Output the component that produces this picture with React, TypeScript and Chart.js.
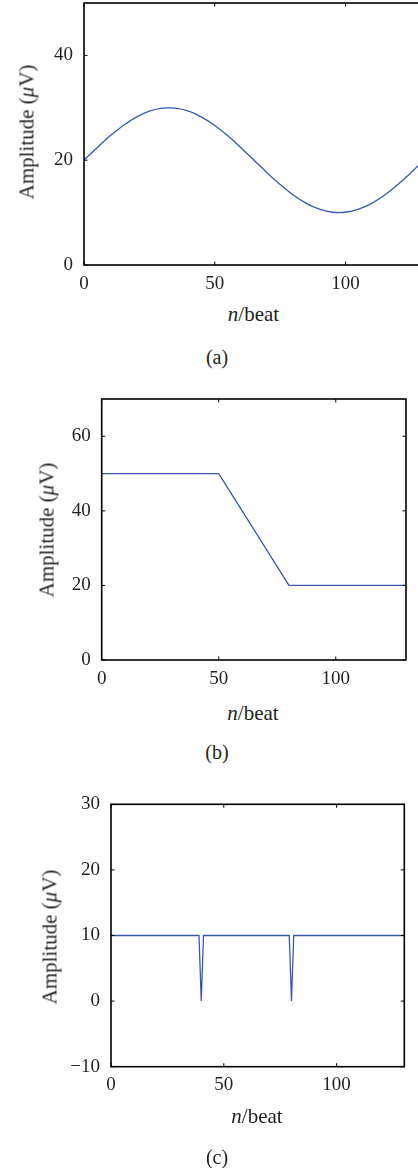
import React, { useEffect, useRef } from "react";
import { Chart, registerables } from "chart.js";

Chart.register(...registerables);

// ---- data ----
const beatsA = [0, 5, 10, 15, 20, 25, 30, 35, 40, 45, 50, 55, 60, 65, 70, 75, 80, 85, 90, 95, 100, 105, 110, 115, 120, 125, 130];
const amplitudeA = [20, 22.39, 24.65, 26.63, 28.23, 29.35, 29.93, 29.93, 29.35, 28.23, 26.63, 24.65, 22.39, 20, 17.61, 15.35, 13.37, 11.77, 10.65, 10.07, 10.07, 10.65, 11.77, 13.37, 15.35, 17.61, 20];

const beatsB = [0, 50, 80, 130];
const amplitudeB = [50, 50, 20, 20];

const beatsC = [0, 39, 40, 41, 79, 80, 81, 130];
const amplitudeC = [10, 10, 0, 10, 10, 0, 10, 10];

const xTicks = [0, 50, 100];
const yTicksA = [0, 20, 40];
const yTicksB = [0, 20, 40, 60];
const yTicksC = [-10, 0, 10, 20, 30];

const captions = ["(a)", "(b)", "(c)"];

// ---- styles / layout ----
const TEXT = "#231f20";
const LINE = "#3858ad";
const SERIF = "Liberation Serif";

type Panel = {
  beats: number[];
  amps: number[];
  xMin: number;
  xMax: number;
  yMin: number;
  yMax: number;
  yTicks: number[];
  tension: number;
  top: number;
  W: number;
  H: number;
  plotL: number;
  plotT: number;
  plotR: number;
  plotB: number;
  xPad: number;
  yTitle: [number, number];
  xTitle: [number, number];
  caption: [number, number];
};

const panels: Panel[] = [
  {
    beats: beatsA, amps: amplitudeA, xMin: 0, xMax: 130, yMin: 0, yMax: 50, yTicks: yTicksA, tension: 0.4,
    top: 0, W: 440, H: 300, plotL: 84, plotT: 3, plotR: 424, plotB: 265, xPad: 8,
    yTitle: [27, 132], xTitle: [253.5, 314], caption: [217, 357],
  },
  {
    beats: beatsB, amps: amplitudeB, xMin: 0, xMax: 130, yMin: 0, yMax: 70, yTicks: yTicksB, tension: 0,
    top: 380, W: 418, H: 320, plotL: 101.7, plotT: 399, plotR: 406, plotB: 660, xPad: 8,
    yTitle: [47, 530], xTitle: [253, 713], caption: [217, 752],
  },
  {
    beats: beatsC, amps: amplitudeC, xMin: 0, xMax: 130, yMin: -10, yMax: 30, yTicks: yTicksC, tension: 0,
    top: 780, W: 418, H: 330, plotL: 111, plotT: 804.3, plotR: 404.3, plotB: 1066.7, xPad: 7,
    yTitle: [50, 937], xTitle: [257, 1116], caption: [217, 1157],
  },
];

const framePlugin = {
  id: "frame",
  afterDraw(chart: any) {
    const { ctx, chartArea } = chart;
    const { left, top, right, bottom } = chartArea;
    const xs = chart.scales.x;
    const ys = chart.scales.y;
    ctx.save();
    ctx.strokeStyle = "#000";
    ctx.lineWidth = 1;
    const tl = 3.5;
    xs.ticks.forEach((t: any) => {
      const px = xs.getPixelForValue(t.value);
      ctx.beginPath();
      ctx.moveTo(px, bottom);
      ctx.lineTo(px, bottom - tl);
      ctx.moveTo(px, top);
      ctx.lineTo(px, top + tl);
      ctx.stroke();
    });
    ys.ticks.forEach((t: any) => {
      const py = ys.getPixelForValue(t.value);
      ctx.beginPath();
      ctx.moveTo(left, py);
      ctx.lineTo(left + tl, py);
      ctx.moveTo(right, py);
      ctx.lineTo(right - tl, py);
      ctx.stroke();
    });
    ctx.lineWidth = 1.6;
    ctx.strokeRect(left, top, right - left, bottom - top);
    ctx.restore();
  },
};

function PanelChart({ p }: { p: Panel }) {
  const ref = useRef<HTMLCanvasElement | null>(null);
  useEffect(() => {
    if (!ref.current) return;
    const font = { family: SERIF, size: 19 };
    const chart = new Chart(ref.current, {
      type: "line",
      data: {
        datasets: [
          {
            data: p.beats.map((b, i) => ({ x: b, y: p.amps[i] })),
            borderColor: LINE,
            borderWidth: 1.3,
            pointRadius: 0,
            tension: p.tension,
            fill: false,
          },
        ],
      },
      options: {
        responsive: false,
        animation: false,
        events: [],
        layout: { padding: { left: 0, top: p.plotT - p.top, right: p.W - p.plotR, bottom: 0 } },
        plugins: { legend: { display: false }, tooltip: { enabled: false } },
        scales: {
          x: {
            type: "linear",
            min: p.xMin,
            max: p.xMax,
            afterBuildTicks: (s: any) => {
              s.ticks = xTicks.map((v) => ({ value: v }));
            },
            afterFit: (s: any) => {
              s.height = p.top + p.H - p.plotB;
              s.paddingLeft = 0; s.paddingRight = 0; s.paddingTop = 0; s.paddingBottom = 0;
            },
            grid: { display: false, drawTicks: false },
            border: { display: false },
            ticks: { font, color: TEXT, padding: p.xPad, maxRotation: 0, autoSkip: false, callback: (v: any) => String(v) },
          },
          y: {
            type: "linear",
            min: p.yMin,
            max: p.yMax,
            afterBuildTicks: (s: any) => {
              s.ticks = p.yTicks.map((v) => ({ value: v }));
            },
            afterFit: (s: any) => {
              s.width = p.plotL;
              s.paddingLeft = 0; s.paddingRight = 0; s.paddingTop = 0; s.paddingBottom = 0;
            },
            grid: { display: false, drawTicks: false },
            border: { display: false },
            ticks: {
              font, color: TEXT, padding: 11, autoSkip: false,
              callback: (v: any) => (v < 0 ? "\u2212" + Math.abs(v) : String(v)),
            },
          },
        },
      },
      plugins: [framePlugin],
    } as any);
    return () => chart.destroy();
  }, [p]);
  return (
    <canvas
      ref={ref}
      width={p.W}
      height={p.H}
      style={{ position: "absolute", left: 0, top: p.top, width: p.W, height: p.H }}
    />
  );
}

const centered = (x: number, y: number, extra: React.CSSProperties = {}): React.CSSProperties => ({
  position: "absolute",
  left: x,
  top: y,
  transform: "translate(-50%, -50%)",
  whiteSpace: "nowrap",
  fontFamily: "'Liberation Serif'",
  fontSize: 21,
  color: TEXT,
  lineHeight: 1,
  ...extra,
});

export default function App() {
  return (
    <div style={{ position: "absolute", left: 0, top: 0, width: 418, height: 1168, overflow: "hidden", background: "#fff" }}>
      {panels.map((p, i) => (
        <React.Fragment key={i}>
          <PanelChart p={p} />
          <div style={centered(p.yTitle[0], p.yTitle[1], { transform: "translate(-50%, -50%) rotate(-90deg)" })}>
            Amplitude (<i>μ</i>V)
          </div>
          <div style={centered(p.xTitle[0], p.xTitle[1])}>
            <i>n</i>/beat
          </div>
          <div style={centered(p.caption[0], p.caption[1], { fontSize: 20 })}>{captions[i]}</div>
        </React.Fragment>
      ))}
    </div>
  );
}
